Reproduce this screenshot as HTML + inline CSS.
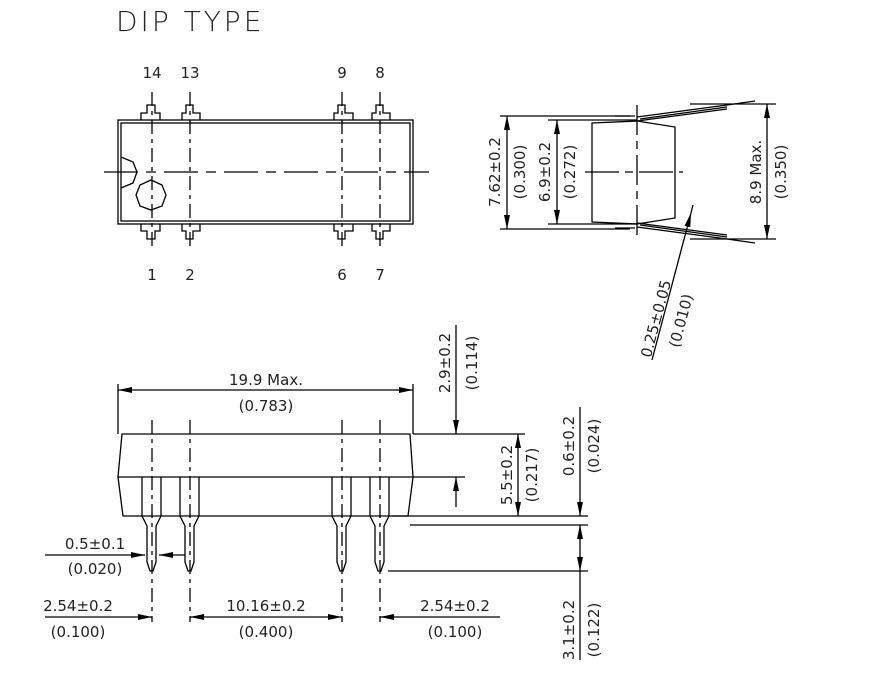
<!DOCTYPE html>
<html><head><meta charset="utf-8"><style>
html,body{margin:0;padding:0;background:#fff}
svg{display:block}
text{font-family:"DejaVu Sans","Liberation Sans",sans-serif;fill:#222;font-size:15px}
</style></head><body>
<svg width="896" height="680" viewBox="0 0 896 680" xmlns="http://www.w3.org/2000/svg">
<defs>
<marker id="a" viewBox="0 0 14 6" refX="14" refY="3" markerWidth="14" markerHeight="6" markerUnits="userSpaceOnUse" orient="auto"><path d="M0,0L14,3L0,6z" fill="#000"/></marker>
</defs>
<text x="116" y="31" style="font-size:28px;letter-spacing:3px;font-weight:300">DIP TYPE</text>
<g style="font-size:19px" text-anchor="middle">
<text x="152" y="78">14</text><text x="190" y="78">13</text><text x="342" y="78">9</text><text x="380" y="78">8</text>
<text x="152" y="280">1</text><text x="190" y="280">2</text><text x="342" y="280">6</text><text x="380" y="280">7</text>
</g>
<g stroke="#000" stroke-width="1.3" fill="none">
<!-- top view -->
<rect x="118" y="120" width="295" height="104"/>
<rect x="121" y="123" width="289" height="98"/>
<path d="M141,120V113H147V105H155V113H160V120"/>
<path d="M182,120V113H186V105H193V113H200V120"/>
<path d="M334,120V113H338V105H345V113H353V120"/>
<path d="M372,120V113H376V105H383V113H390V120"/>
<path d="M141,224V231H147V239H155V231H160V224"/>
<path d="M182,224V231H186V239H193V231H200V224"/>
<path d="M334,224V231H338V239H345V231H353V224"/>
<path d="M372,224V231H376V239H383V231H390V224"/>
<path d="M121,157L133,162L137,172L133,183L121,188"/>
<polygon points="151,180 162,185 166,195 162,206 151,210 140,206 136,195 140,185"/>
<g stroke-dasharray="14,5,4,5">
<path d="M152,92V250M190,92V250M342,92V250M380,92V250"/>
</g>
<path d="M104,172H429" stroke-dasharray="34,8,10,8"/>
<!-- side view -->
<polygon points="592,123 637,121 675,127 675,218 637,224 592,222"/>
<path d="M637,117L727,105M637,121L727,109M727,105L755,101M640,119L727,107"/>
<path d="M637,227L727,239M637,223L727,235M727,239L755,243M640,225L727,237"/>
<path d="M615,116H635M615,228H635"/>
<path d="M637,105V240" stroke-dasharray="30,6,8,6"/>
<path d="M585,172H683" stroke-dasharray="34,6,8,6"/>
<path d="M500,116H630M500,229H630M548,120H637M548,224H637M690,104H776M690,239H776"/>
<path d="M507,172V116" marker-end="url(#a)"/><path d="M507,172V229" marker-end="url(#a)"/>
<path d="M557,172V120" marker-end="url(#a)"/><path d="M557,172V224" marker-end="url(#a)"/>
<path d="M767,172V104" marker-end="url(#a)"/><path d="M767,172V239" marker-end="url(#a)"/>
<path d="M652,360L691,213" marker-end="url(#a)"/><path d="M691,213L693,205"/>
<!-- bottom view -->
<path d="M122,434H410L413,477H118Z"/>
<path d="M118,477L123,516H408L413,477"/>
<g id="pins">
<path d="M142,477V516L147,526V562L150,571H153L156,562V526L161,516V477"/>
</g>
<use href="#pins" x="38"/><use href="#pins" x="190"/><use href="#pins" x="228"/>
<g stroke-dasharray="14,5,4,5"><path d="M152,420V622M190,420V622M342,420V622M380,420V622"/></g>
<path d="M118,434V384M413,434V384"/>
<path d="M266,390H118" marker-end="url(#a)"/><path d="M266,390H413" marker-end="url(#a)"/>
<path d="M413,434H525M413,477H465M392,516H588M410,525H588M388,571H588"/>
<path d="M456,325V434" marker-end="url(#a)"/><path d="M456,507V477" marker-end="url(#a)"/>
<path d="M518,475V434" marker-end="url(#a)"/><path d="M518,475V516" marker-end="url(#a)"/>
<path d="M580,407V516" marker-end="url(#a)"/><path d="M580,548V525" marker-end="url(#a)"/><path d="M580,548V571" marker-end="url(#a)"/><path d="M580,571V660"/>
<path d="M45,555H145" marker-end="url(#a)"/><path d="M185,555H159" marker-end="url(#a)"/>
<path d="M45,617H152" marker-end="url(#a)"/>
<path d="M266,617H190" marker-end="url(#a)"/><path d="M266,617H342" marker-end="url(#a)"/>
<path d="M500,617H380" marker-end="url(#a)"/>
</g>
<g text-anchor="middle">
<text x="266" y="385">19.9  Max.</text><text x="266" y="411">(0.783)</text>
<text x="95" y="549">0.5±0.1</text><text x="95" y="574">(0.020)</text>
<text x="78" y="611">2.54±0.2</text><text x="78" y="637">(0.100)</text>
<text x="266" y="611">10.16±0.2</text><text x="266" y="637">(0.400)</text>
<text x="455" y="611">2.54±0.2</text><text x="455" y="637">(0.100)</text>
<text transform="translate(450,363) rotate(-90)">2.9±0.2</text>
<text transform="translate(477,363) rotate(-90)">(0.114)</text>
<text transform="translate(512,475) rotate(-90)">5.5±0.2</text>
<text transform="translate(537,475) rotate(-90)">(0.217)</text>
<text transform="translate(574,446) rotate(-90)">0.6±0.2</text>
<text transform="translate(599,446) rotate(-90)">(0.024)</text>
<text transform="translate(574,630) rotate(-90)">3.1±0.2</text>
<text transform="translate(599,630) rotate(-90)">(0.122)</text>
<text transform="translate(500,172) rotate(-90)">7.62±0.2</text>
<text transform="translate(525,172) rotate(-90)">(0.300)</text>
<text transform="translate(550,172) rotate(-90)">6.9±0.2</text>
<text transform="translate(575,172) rotate(-90)">(0.272)</text>
<text transform="translate(761,172) rotate(-90)">8.9  Max.</text>
<text transform="translate(786,172) rotate(-90)">(0.350)</text>
<text transform="translate(661,320) rotate(-75)">0.25±0.05</text>
<text transform="translate(686,322) rotate(-75)">(0.010)</text>
</g>
</svg>
</body></html>
